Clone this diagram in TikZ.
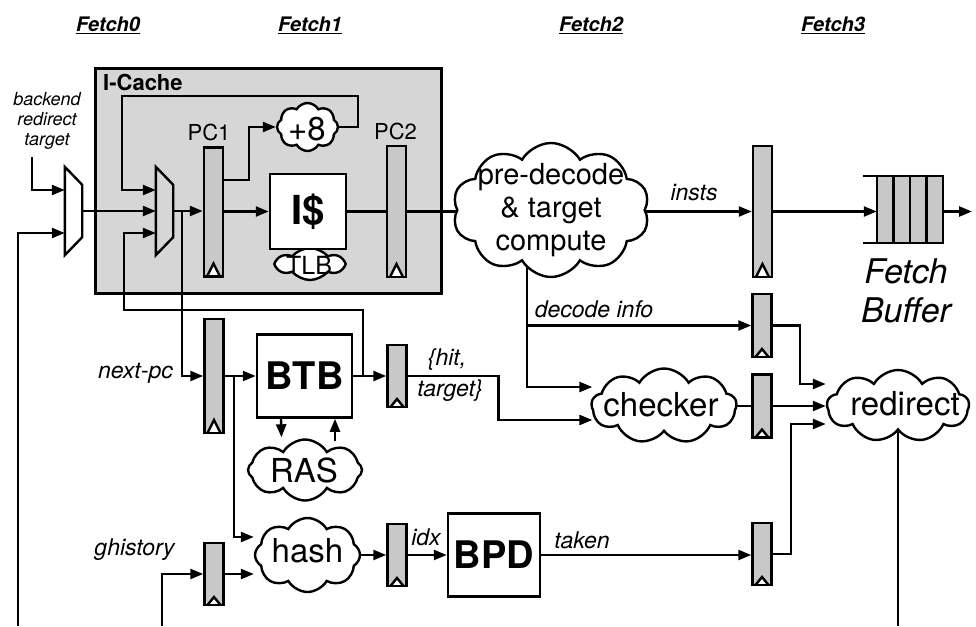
\documentclass[tikz,border=0pt]{standalone}
\usepackage{fontspec}
\setmainfont{TeX Gyre Heros}
\usetikzlibrary{shapes.symbols,arrows.meta,calc}
\definecolor{icbg}{RGB}{214,214,214}
\definecolor{regc}{RGB}{200,200,200}
\pgfdeclarelayer{bg}
\pgfdeclarelayer{wires}
\pgfsetlayers{bg,wires,main}
\tikzset{
  wire/.style={line width=2.4pt},
  arr/.style={line width=2.4pt, -{Triangle[length=13pt,width=10pt]}},
  reg/.style 2 args={draw, fill=regc, line width=2.5pt, minimum width=19pt, minimum height=#1, inner sep=0pt,
     path picture={\draw[line width=2.4pt, fill=white] ([xshift=3pt]path picture bounding box.south west) -- ([yshift=#2]path picture bounding box.south) -- ([xshift=-3pt]path picture bounding box.south east);}},
  cl/.style={cloud, draw, fill=white, line width=2.4pt, cloud puffs=9, cloud puff arc=120, cloud ignores aspect, inner sep=0pt},
  cltxt/.style={inner sep=0pt, font=\fontsize{33}{36}\selectfont},
  bx/.style={draw, fill=white, line width=2.5pt, inner sep=0pt, font=\fontsize{38}{40}\selectfont\bfseries},
  lbl/.style={inner sep=0pt, font=\fontsize{23}{26}\selectfont\itshape},
  head/.style={inner sep=0pt, font=\fontsize{20}{24}\selectfont\bfseries\itshape},
  mux/.style={inner sep=0pt, minimum width=17pt, minimum height=88pt},
  pclbl/.style={inner sep=0pt, font=\fontsize{22}{24}\selectfont},
}
\begin{document}
\begin{tikzpicture}[x=1pt,y=-1pt]
\useasboundingbox (0,0) rectangle (976,626);
\begin{pgfonlayer}{bg}
  \fill[white] (0,0) rectangle (976,626);
  \node[draw, fill=icbg, line width=2.5pt, minimum width=346pt, minimum height=225pt, inner sep=0pt, anchor=north west] (icache) at (94,67) {};
\end{pgfonlayer}

% headings
\foreach \n/\t/\x in {h0/Fetch0/108, h1/Fetch1/310, h2/Fetch2/591, h3/Fetch3/833}{
  \node[head] (\n) at (\x,24) {\t};
  \draw[line width=1.6pt] ([yshift=-2.5pt]\n.base west) -- ([yshift=-2.5pt]\n.base east);
}

\node[inner sep=0pt, anchor=west, font=\fontsize{22}{24}\selectfont\bfseries] (icl) at (103,82) {I-Cache};

% muxes
\node[mux] (mux1) at (73.5,211) {};
\draw[line width=2.4pt, fill=white] (mux1.north west) -- ([yshift=-18pt]mux1.north east) -- ([yshift=18pt]mux1.south east) -- (mux1.south west) -- cycle;
\node[mux] (mux2) at (164.5,211) {};
\draw[line width=2.4pt, fill=icbg] (mux2.north west) -- ([yshift=-18pt]mux2.north east) -- ([yshift=18pt]mux2.south east) -- (mux2.south west) -- cycle;

% registers
\node[reg={129pt}{13pt}] (pc1) at (213.5,212) {};
\node[reg={131pt}{13pt}] (pc2) at (396.5,211.5) {};
\node[reg={114pt}{13pt}] (npc) at (214,376) {};
\node[reg={62pt}{8pt}] (btbr) at (397,376) {};
\node[reg={62pt}{8pt}] (ghr) at (214,574) {};
\node[reg={62pt}{8pt}] (hr) at (397,555) {};
\node[reg={131pt}{13pt}] (f3r) at (762.5,211.5) {};
\node[reg={63pt}{8pt}] (dr) at (762,325.5) {};
\node[reg={63pt}{8pt}] (cr) at (762,406) {};
\node[reg={62pt}{8pt}] (tr) at (762,554) {};

\node[pclbl] (pc1l) at (209,132) {PC1};
\node[pclbl] (pc2l) at (395.5,131) {PC2};

% clouds
\node[cl, minimum width=61pt, minimum height=48pt, cloud puffs=8] (p8) at (307.5,127) {};
\node[cltxt] (p8t) at (307,129) {+8};
\node[cl, minimum width=66pt, minimum height=32pt, cloud puffs=6, cloud puff arc=100] (tlb) at (310,264) {};
\node[inner sep=0pt, font=\fontsize{25}{28}\selectfont] (tlbt) at (309,265) {TLB};
\node[cl, minimum width=197pt, minimum height=134pt, cloud puffs=10] (pd) at (551,210) {};
\node[inner sep=0pt, align=center, font=\fontsize{29}{33}\selectfont] (pdt) at (551,210) {pre-decode\\\& target\\compute};
\node[cl, minimum width=145pt, minimum height=75pt] (chk) at (664,406) {};
\node[cltxt] (chkt) at (661,405) {checker};
\node[cl, minimum width=142pt, minimum height=72pt] (rd) at (898,406) {};
\node[cltxt] (rdt) at (905,404) {redirect};
\node[cl, minimum width=114pt, minimum height=61pt, cloud puffs=8] (ras) at (305,470) {};
\node[cltxt] (rast) at (304,470) {RAS};
\node[cl, minimum width=105pt, minimum height=74pt, cloud puffs=8] (hash) at (307.5,555) {};
\node[cltxt] (hasht) at (307.5,551) {hash};

% boxes
\node[bx, minimum width=76pt, minimum height=75pt, font=\fontsize{40}{42}\selectfont\bfseries] (ic) at (308,211.5) {I\$};
\node[bx, minimum width=95pt, minimum height=83pt] (btb) at (304.5,376) {BTB};
\node[bx, minimum width=92pt, minimum height=83pt] (bpd) at (494,555) {BPD};

% fetch buffer
\node[inner sep=0pt, minimum width=66pt, minimum height=67pt] (fb) at (910,209.5) {};
\foreach \i in {0,...,3}{
  \draw[line width=2.4pt, fill=regc] ($(fb.north west)+(\i*16.5,0)$) rectangle ++(16.5,67);
}
\draw[wire] ($(fb.north west)+(-14,0)$) -- (fb.north east);
\draw[wire] ($(fb.south west)+(-14,0)$) -- (fb.south east);
\node[inner sep=0pt, align=center, font=\fontsize{34}{39}\selectfont\itshape] (fbl) at (906,291) {Fetch\\Buffer};

% labels
\node[inner sep=0pt, align=center, font=\fontsize{18}{20}\selectfont\itshape] (bkt) at (47,121) {backend\\redirect\\target};
\node[lbl] (instsl) at (694,193) {insts};
\node[lbl] (decl) at (594,309) {decode info};
\node[lbl] (npcl) at (135.5,373) {next-pc};
\node[lbl] (hitl) at (447,360) {\{hit,};
\node[lbl] (targl) at (450,391) {target\}};
\node[lbl] (ghl) at (134.5,550) {ghistory};
\node[lbl] (idxl) at (426,537) {idx};
\node[lbl] (takl) at (582,540) {taken};

% wires
\coordinate (bkin) at (32,157);
\coordinate (lret) at (18,626);
\coordinate (gin) at (162,626);
\coordinate (fbout) at (972,211.5);
\begin{pgfonlayer}{wires}
\draw[arr] (bkin) |- ([yshift=21pt]mux1.west);
\draw[arr] (lret) |- ([yshift=-22pt]mux1.west);
\draw[arr] (mux1.east) -- (mux2.west);
\draw[arr] (p8.east) -| (358,96) -| (122,190) -- ([yshift=21pt]mux2.west);
\draw[arr] (mux2.east) -- (mux2.east -| pc1.west);
\draw[arr] ($(mux2.east)+(9,0)$) |- (npc.west);
\draw[arr] ([yshift=32pt]pc1.east) -| ($(p8.west)+(-27,0)$) -- (p8.west);
\draw[arr] (pc1.east |- ic.west) -- (ic.west);
\draw[wire] (ic.east) -- (ic.east -| pd.center);
\draw[arr] (pd.center |- f3r.west) -- (f3r.west);
\draw[arr] (f3r.east) -- (f3r.east -| fb.west);
\draw[arr] (fb.east |- fbout) -- (fbout);
\draw[arr] ($(pd.center)+(-24,0)$) |- ([xshift=2pt,yshift=19pt]chk.west);
\draw[arr] ($(pd.center)+(-24,0)$) |- (dr.west);
\draw[arr] (dr.east) -| ($(rd.west)+(-26,-22)$) -- ([yshift=22pt]rd.west);
\draw[wire] (chk.center) -- (cr.west);
\draw[arr] (cr.east) -- (cr.east -| rd.west);
\draw[arr] (btbr.east) -| ($(chk.west)+(-92,14)$) -- ([xshift=2pt,yshift=-14pt]chk.west);
\draw[arr] (npc.east) -- (btb.west);
\draw[arr] ($(npc.east)+(9,0)$) |- ([yshift=18pt]hash.west);
\draw[arr] (btb.east) -- (btbr.west);
\draw[arr] ($(btb.east)+(10,0)$) |- ($(mux2.west)+(-32,99)$) |- ([yshift=-22pt]mux2.west);
\draw[arr] ($(btb.south)+(-23.5,0)$) -- ($(ras.north)+(-23.5,-1)$);
\draw[arr] ($(ras.north)+(30,3)$) -- ($(btb.south)+(30.5,0)$);
\draw[arr] (gin) |- (ghr.west);
\draw[arr] (ghr.east) -- ([yshift=-19pt]hash.west);
\draw[arr] (hash.center |- hr.west) -- (hr.west);
\draw[arr] (hr.east) -- (bpd.west);
\draw[arr] (bpd.east) -- (bpd.east -| tr.west);
\draw[arr] (tr.east) -| ($(rd.west)+(-35,18)$) -- ([yshift=-18pt]rd.west);
\draw[wire] (rd.center) -- (rd.center |- gin);
\end{pgfonlayer}
\end{tikzpicture}
\end{document}
